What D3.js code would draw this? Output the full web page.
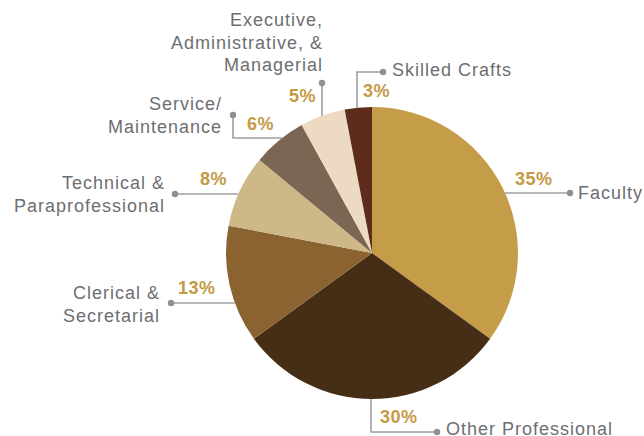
<!DOCTYPE html>
<html>
<head>
<meta charset="utf-8">
<script src="https://cdn.jsdelivr.net/npm/d3@7"></script>
<style>
  body { margin: 0; background: #fff; }
  svg { display: block; }
  .lbl { font-family: "Liberation Sans", Arial, sans-serif; font-size: 18px; letter-spacing: 1px; fill: #6d6e71; }
  .pct { font-family: "Liberation Sans", Arial, sans-serif; font-size: 18px; font-weight: bold; letter-spacing: 0.5px; fill: #c49a45; }
</style>
</head>
<body>
<svg id="chart" width="644" height="436"></svg>
<script>
// data
const categories = ["Faculty", "Other Professional", "Clerical & Secretarial", "Technical & Paraprofessional",
    "Service/ Maintenance", "Executive, Administrative, & Managerial", "Skilled Crafts"];
const values = [35, 30, 13, 8, 6, 5, 3];
const labelLines = [["Faculty"], ["Other Professional"], ["Clerical &", "Secretarial"], ["Technical &", "Paraprofessional"],
    ["Service/", "Maintenance"], ["Executive,", "Administrative, &", "Managerial"], ["Skilled Crafts"]];
const colors = ["#c59d49", "#452e15", "#8b6331", "#cfb887", "#7a6653", "#ecdbc2", "#5e2c1d"];

// layout of the callouts (pixel positions), one entry per category
const layout = [
    { path: [[570, 193]], hit: "h", pct: [515, 185], pctAnchor: "start", lbl: [578, 199], anchor: "start" },
    { path: [[437, 432], [371, 432]], hit: "v", pct: [380, 423], pctAnchor: "start", lbl: [446, 435], anchor: "start" },
    { path: [[171, 303]], hit: "h", pct: [178, 294], pctAnchor: "start", lbl: [160, 299], anchor: "end" },
    { path: [[175, 194]], hit: "h", pct: [200, 185], pctAnchor: "start", lbl: [165, 189], anchor: "end" },
    { path: [[233, 115], [233, 138]], hit: "h", pct: [247, 130], pctAnchor: "start", lbl: [222, 110], anchor: "end" },
    { path: [[322, 83]], hit: "v", pct: [316, 102], pctAnchor: "end", lbl: [323, 26], anchor: "end" },
    { path: [[383, 72], [357, 72]], hit: "v", pct: [363, 97], pctAnchor: "start", lbl: [392, 76], anchor: "start" }
];

const cx = 372, cy = 253, radius = 146, lineH = 22.5;
const svg = d3.select("#chart");

const pie = d3.pie().sort(null).value(d => d)(values);
const arc = d3.arc().innerRadius(0).outerRadius(radius);

const g = svg.append("g").attr("transform", `translate(${cx},${cy})`);
g.selectAll("path.slice")
    .data(pie)
    .enter().append("path")
    .attr("class", "slice")
    .attr("d", arc)
    .attr("fill", (d, i) => colors[i]);

// where the last leg of a leader meets the pie edge
function hitPoint(pts, hit) {
    let last = pts[pts.length - 1];
    if (hit === "h") {
        let dy = last[1] - cy;
        let dx = Math.sqrt(radius * radius - dy * dy);
        return [last[0] > cx ? cx + dx : cx - dx, last[1]];
    } else {
        let dx = last[0] - cx;
        let dy = Math.sqrt(radius * radius - dx * dx);
        return [last[0], last[1] > cy ? cy + dy : cy - dy];
    }
}

layout.forEach(function (L, i) {
    let pts = L.path.slice();
    pts.push(hitPoint(pts, L.hit));
    svg.append("path")
        .attr("d", d3.line()(pts))
        .attr("fill", "none")
        .attr("stroke", "#9d9fa2")
        .attr("stroke-width", 1.6);
    svg.append("circle")
        .attr("cx", pts[0][0]).attr("cy", pts[0][1])
        .attr("r", 3.2).attr("fill", "#8e9093");

    svg.append("text")
        .attr("class", "pct")
        .attr("x", L.pct[0]).attr("y", L.pct[1])
        .attr("text-anchor", L.pctAnchor)
        .text(values[i] + "%");

    let t = svg.append("text")
        .attr("class", "lbl")
        .attr("text-anchor", L.anchor);
    labelLines[i].forEach(function (s, k) {
        t.append("tspan").attr("x", L.lbl[0]).attr("y", L.lbl[1] + k * lineH).text(s);
    });
});
</script>
</body>
</html>
